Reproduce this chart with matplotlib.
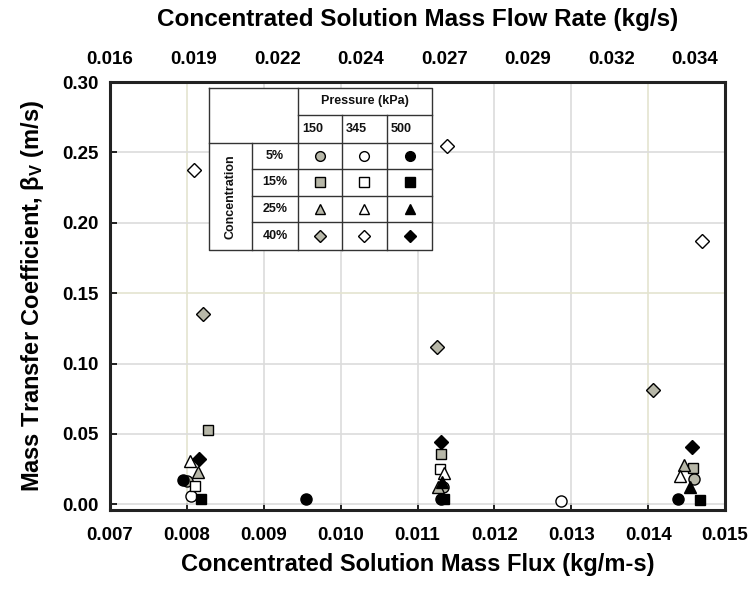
import matplotlib
matplotlib.use("Agg")
import matplotlib.pyplot as plt
from matplotlib.ticker import FixedLocator, FixedFormatter

plt.rcParams["font.family"] = ["Liberation Sans", "DejaVu Sans"]
plt.rcParams["font.weight"] = "bold"
plt.rcParams["mathtext.default"] = "regular"

# concentration / pressure groups
concentrations = ["5%", "15%", "25%", "40%"]
pressures = ["150", "345", "500"]

# (flux kg/m-s, beta_V m/s) for each concentration x pressure series
flux_5_150 = [0.00800, 0.01133, 0.01460]
beta_5_150 = [0.0165, 0.0120, 0.0180]
flux_5_345 = [0.00806, 0.01286]
beta_5_345 = [0.0057, 0.0025]
flux_5_500 = [0.00795, 0.00955, 0.01130, 0.01439]
beta_5_500 = [0.0175, 0.0040, 0.0035, 0.0035]

flux_15_150 = [0.00827, 0.01131, 0.01458]
beta_15_150 = [0.0530, 0.0360, 0.0255]
flux_15_345 = [0.00810, 0.01129]
beta_15_345 = [0.0128, 0.0250]
flux_15_500 = [0.00818, 0.01135, 0.01468]
beta_15_500 = [0.0035, 0.0035, 0.0030]

flux_25_150 = [0.00814, 0.01127, 0.01447]
beta_25_150 = [0.0227, 0.0120, 0.0280]
flux_25_345 = [0.00804, 0.01135, 0.01442]
beta_25_345 = [0.0305, 0.0220, 0.0200]
flux_25_500 = [0.01132, 0.01455]
beta_25_500 = [0.0160, 0.0120]

flux_40_150 = [0.00821, 0.01125, 0.01406]
beta_40_150 = [0.1355, 0.1120, 0.0810]
flux_40_345 = [0.00809, 0.01138, 0.01470]
beta_40_345 = [0.2376, 0.2546, 0.1870]
flux_40_500 = [0.00816, 0.01131, 0.01457]
beta_40_500 = [0.0320, 0.0440, 0.0410]

series = {
    ("5%", "150"): (flux_5_150, beta_5_150),
    ("5%", "345"): (flux_5_345, beta_5_345),
    ("5%", "500"): (flux_5_500, beta_5_500),
    ("15%", "150"): (flux_15_150, beta_15_150),
    ("15%", "345"): (flux_15_345, beta_15_345),
    ("15%", "500"): (flux_15_500, beta_15_500),
    ("25%", "150"): (flux_25_150, beta_25_150),
    ("25%", "345"): (flux_25_345, beta_25_345),
    ("25%", "500"): (flux_25_500, beta_25_500),
    ("40%", "150"): (flux_40_150, beta_40_150),
    ("40%", "345"): (flux_40_345, beta_40_345),
    ("40%", "500"): (flux_40_500, beta_40_500),
}

# top axis: mass flow rate (kg/s)
flow_ticks = [0.0164, 0.01895, 0.0215, 0.02405, 0.0266, 0.02915, 0.0317, 0.03425]
flow_labels = ["0.016", "0.019", "0.022", "0.024", "0.027", "0.029", "0.032", "0.034"]

marker_map = {"5%": "o", "15%": "s", "25%": "^", "40%": "D"}
size_map = {"5%": 8, "15%": 7.5, "25%": 8, "40%": 7}
fill_map = {"150": "#b7b7a8", "345": "white", "500": "black"}

fig = plt.figure(figsize=(7.55, 5.9), dpi=100)
ax = fig.add_axes([0.1457, 0.1356, 0.8146, 0.7254])

for (conc, pres), (xs, ys) in series.items():
    ax.plot(xs, ys, linestyle="none", marker=marker_map[conc],
            markersize=size_map[conc], markerfacecolor=fill_map[pres],
            markeredgecolor="black", markeredgewidth=1.0, zorder=4)

ax.set_xlim(0.007, 0.015)
ax.set_ylim(-0.004, 0.30)
ax.set_xticks([0.007, 0.008, 0.009, 0.010, 0.011, 0.012, 0.013, 0.014, 0.015])
ax.set_yticks([0.00, 0.05, 0.10, 0.15, 0.20, 0.25, 0.30])
ax.xaxis.set_major_formatter(plt.FormatStrFormatter("%.3f"))
ax.yaxis.set_major_formatter(plt.FormatStrFormatter("%.2f"))
ax.tick_params(axis="both", direction="in", length=5, width=1.2,
               labelsize=13.5, pad=8)
ax.tick_params(axis="x", pad=12)
ax.grid(True, color="#dcdcdc", linewidth=1.2, zorder=0)
for line in ax.get_xgridlines()[1:2] + ax.get_xgridlines()[7:8] + ax.get_ygridlines()[3:4]:
    line.set_color("#e4e4cf")
for sp in ax.spines.values():
    sp.set_linewidth(2.2)
    sp.set_color("#222222")

ax.set_xlabel("Concentrated Solution Mass Flux (kg/m-s)", fontsize=17,
              fontweight="bold", labelpad=7)
ax.set_ylabel("Mass Transfer Coefficient, β$_{V}$ (m/s)", fontsize=17,
              fontweight="bold", labelpad=12)

ax2 = ax.twiny()
ax2.set_xlim(0.0164, 0.0164 + 616 / 83.7 * 0.00255)
ax2.xaxis.set_major_locator(FixedLocator(flow_ticks))
ax2.xaxis.set_major_formatter(FixedFormatter(flow_labels))
ax2.tick_params(axis="x", direction="in", length=0, labelsize=13.5, pad=10)
ax2.set_xlabel("Concentrated Solution Mass Flow Rate (kg/s)", fontsize=17.5,
               fontweight="bold", labelpad=18)
for sp in ax2.spines.values():
    sp.set_visible(False)

# ---- symbol key table drawn inside the axes ----
tx = [0.161, 0.231, 0.306, 0.377, 0.450, 0.524]
ty = [0.986, 0.923, 0.857, 0.797, 0.734, 0.673, 0.607]
tr = ax.transAxes
ax.add_patch(plt.Rectangle((tx[0], ty[-1]), tx[-1] - tx[0], ty[0] - ty[-1],
                           transform=tr, facecolor="white", edgecolor="none",
                           zorder=5))
lk = dict(transform=tr, color="#333333", linewidth=1.0, zorder=6, clip_on=False)
# outer box
ax.plot([tx[0], tx[-1], tx[-1], tx[0], tx[0]], [ty[0], ty[0], ty[-1], ty[-1], ty[0]], **lk)
# horizontal lines
ax.plot([tx[2], tx[-1]], [ty[1], ty[1]], **lk)
ax.plot([tx[0], tx[-1]], [ty[2], ty[2]], **lk)
for yv in ty[3:6]:
    ax.plot([tx[1], tx[-1]], [yv, yv], **lk)
# vertical lines
ax.plot([tx[1], tx[1]], [ty[2], ty[-1]], **lk)
ax.plot([tx[2], tx[2]], [ty[0], ty[-1]], **lk)
for xv in tx[3:5]:
    ax.plot([xv, xv], [ty[1], ty[-1]], **lk)

tk = dict(transform=tr, fontsize=9, fontweight="bold", zorder=7,
          va="center", color="#111111")
ax.text((tx[2] + tx[-1]) / 2, (ty[0] + ty[1]) / 2, "Pressure (kPa)", ha="center", **tk)
for j, pres in enumerate(pressures):
    ax.text(tx[2 + j] + 0.007, (ty[1] + ty[2]) / 2, pres, ha="left", **tk)
ax.text((tx[0] + tx[1]) / 2, (ty[2] + ty[-1]) / 2, "Concentration",
        ha="center", rotation=90, **tk)
for i, conc in enumerate(concentrations):
    yc = (ty[3 + i - 1] + ty[3 + i]) / 2
    ax.text((tx[1] + tx[2]) / 2, yc, conc, ha="center", **tk)
    for j, pres in enumerate(pressures):
        xc = (tx[2 + j] + tx[3 + j]) / 2
        ax.plot([xc], [yc], transform=tr, linestyle="none",
                marker=marker_map[conc], markersize=size_map[conc] - 1,
                markerfacecolor=fill_map[pres], markeredgecolor="black",
                markeredgewidth=1.0, zorder=7, clip_on=False)

fig.savefig("out.png", dpi=100)
